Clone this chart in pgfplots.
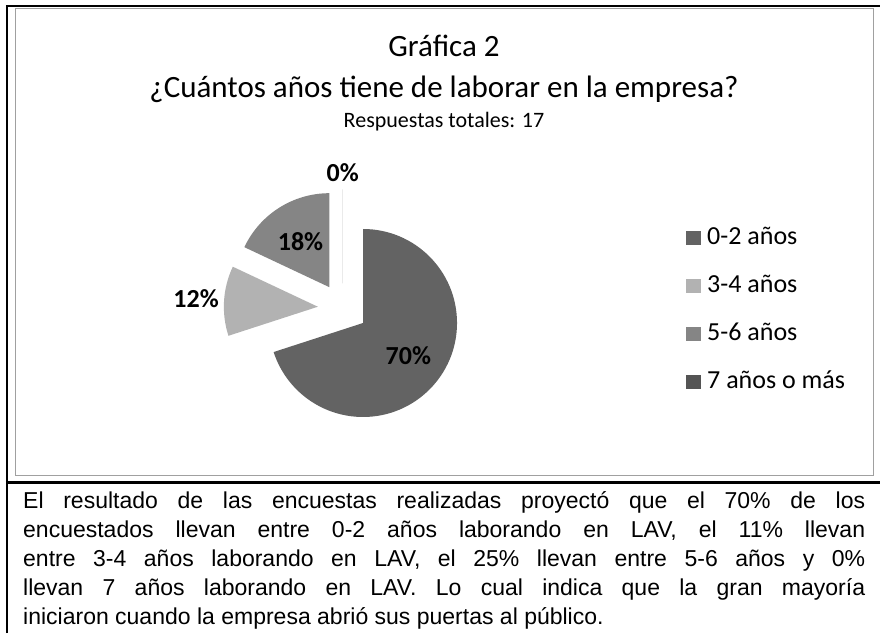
\documentclass[border=0pt]{standalone}
\usepackage{fontspec}
\setmainfont{Carlito}
\newfontfamily\arialfont{Liberation Sans}
\usepackage{pgfplots}
\usepackage{pgfplotstable}
\pgfplotsset{compat=1.18}
\definecolor{c1}{RGB}{99,99,99}
\definecolor{c2}{RGB}{178,178,178}
\definecolor{c3}{RGB}{133,133,133}
\definecolor{c4}{RGB}{84,84,84}
\definecolor{boxgray}{RGB}{160,160,160}
\newcommand\lblfont{\bfseries\fontsize{26}{30}\selectfont}
\newcommand\txtfont{\arialfont\fontsize{23}{29}\selectfont}

% value = percentage shown, dist = label distance from slice apex (pt)
\pgfplotstableread[col sep=comma]{
label,value,col,dist
0-2 años,70,c1,56
3-4 años,12,c2,122
5-6 años,18,c3,54
7 años o más,0,c4,111
}\piedata

\begin{document}
\begin{tikzpicture}
\begin{axis}[
  hide axis, scale only axis, width=880pt, height=633pt,
  xmin=0, xmax=880, ymin=0, ymax=633,
  enlargelimits=false, clip=false,
  legend style={at={(axis cs:686,408)}, anchor=north west, draw=none, fill=none,
     font=\fontsize{26}{30}\selectfont, row sep=23pt, column sep=6pt, inner sep=0pt,
     nodes={inner sep=0pt, text height=19pt, text depth=6pt}},
  legend cell align=left,
  legend image code/.code={\fill[#1] (0pt,-7pt) rectangle (15pt,7pt);},
]
% frame
\draw[line width=2.5pt] (axis cs:7,0) -- (axis cs:7,626.5);
\draw[line width=2pt] (axis cs:5.75,626.5) -- (axis cs:880,626.5);
\draw[boxgray, line width=1.5pt] (axis cs:15.5,157.5) rectangle (axis cs:873.5,624.5);
\draw[line width=3pt] (axis cs:5.75,151) -- (axis cs:880,151);
% titles
\node[anchor=base, inner sep=0pt, font=\fontsize{31}{36}\selectfont] at (axis cs:444,576) {Gráfica 2};
\node[anchor=base, inner sep=0pt, font=\fontsize{31}{36}\selectfont] at (axis cs:444,535) {¿Cuántos años tiene de laborar en la empresa?};
\node[anchor=base, inner sep=0pt, font=\fontsize{22}{26}\selectfont] at (axis cs:444,505) {Respuestas totales: 17};
% pie
\gdef\cum{0}
\pgfplotsforeachungrouped \i in {0,...,3}{
  \pgfplotstablegetelem{\i}{value}\of\piedata \let\val\pgfplotsretval
  \pgfplotstablegetelem{\i}{col}\of\piedata \let\col\pgfplotsretval
  \pgfplotstablegetelem{\i}{dist}\of\piedata \let\dist\pgfplotsretval
  \pgfplotstablegetelem{\i}{label}\of\piedata \let\lab\pgfplotsretval
  \pgfmathsetmacro\as{90-3.6*\cum}
  \pgfmathsetmacro\ae{90-3.6*(\cum+\val)}
  \pgfmathsetmacro\am{(\as+\ae)/2}
  \pgfmathsetmacro\px{342.8+25*cos(\am)}
  \pgfmathsetmacro\py{324.7+25*sin(\am)}
  \pgfmathsetmacro\lx{\px+\dist*cos(\am)}
  \pgfmathsetmacro\ly{\py+\dist*sin(\am)}
  \pgfmathsetmacro\cum{\cum+\val}
  \pgfmathtruncatemacro\vi{\val}
  \edef\temp{%
    \noexpand\fill[\col] (axis cs:\px,\py) -- ++(\as:94pt) arc[start angle=\as, end angle=\ae, radius=94pt] -- cycle;
    \noexpand\node[font=\noexpand\lblfont] at (axis cs:\lx,\ly) {\vi\noexpand\%};
    \noexpand\addlegendimage{fill=\col,draw=none}
    \noexpand\addlegendentry{\lab}
  }%
  \temp
}
% text below
\node[anchor=base west, inner sep=0pt, font=\txtfont] at (axis cs:23,125) {\makebox[842pt][s]{El resultado de las encuestas realizadas proyectó que el 70\% de los}};
\node[anchor=base west, inner sep=0pt, font=\txtfont] at (axis cs:23,96) {\makebox[842pt][s]{encuestados llevan entre 0-2 años laborando en LAV, el 11\% llevan}};
\node[anchor=base west, inner sep=0pt, font=\txtfont] at (axis cs:23,67) {\makebox[842pt][s]{entre 3-4 años laborando en LAV, el 25\% llevan entre 5-6 años y 0\%}};
\node[anchor=base west, inner sep=0pt, font=\txtfont] at (axis cs:23,38) {\makebox[842pt][s]{llevan 7 años laborando en LAV. Lo cual indica que la gran mayoría}};
\node[anchor=base west, inner sep=0pt, font=\txtfont] at (axis cs:23,9) {iniciaron cuando la empresa abrió sus puertas al público.};
\end{axis}
\pgfresetboundingbox
\path (current axis.south west) rectangle (current axis.north east);
\end{tikzpicture}
\end{document}
